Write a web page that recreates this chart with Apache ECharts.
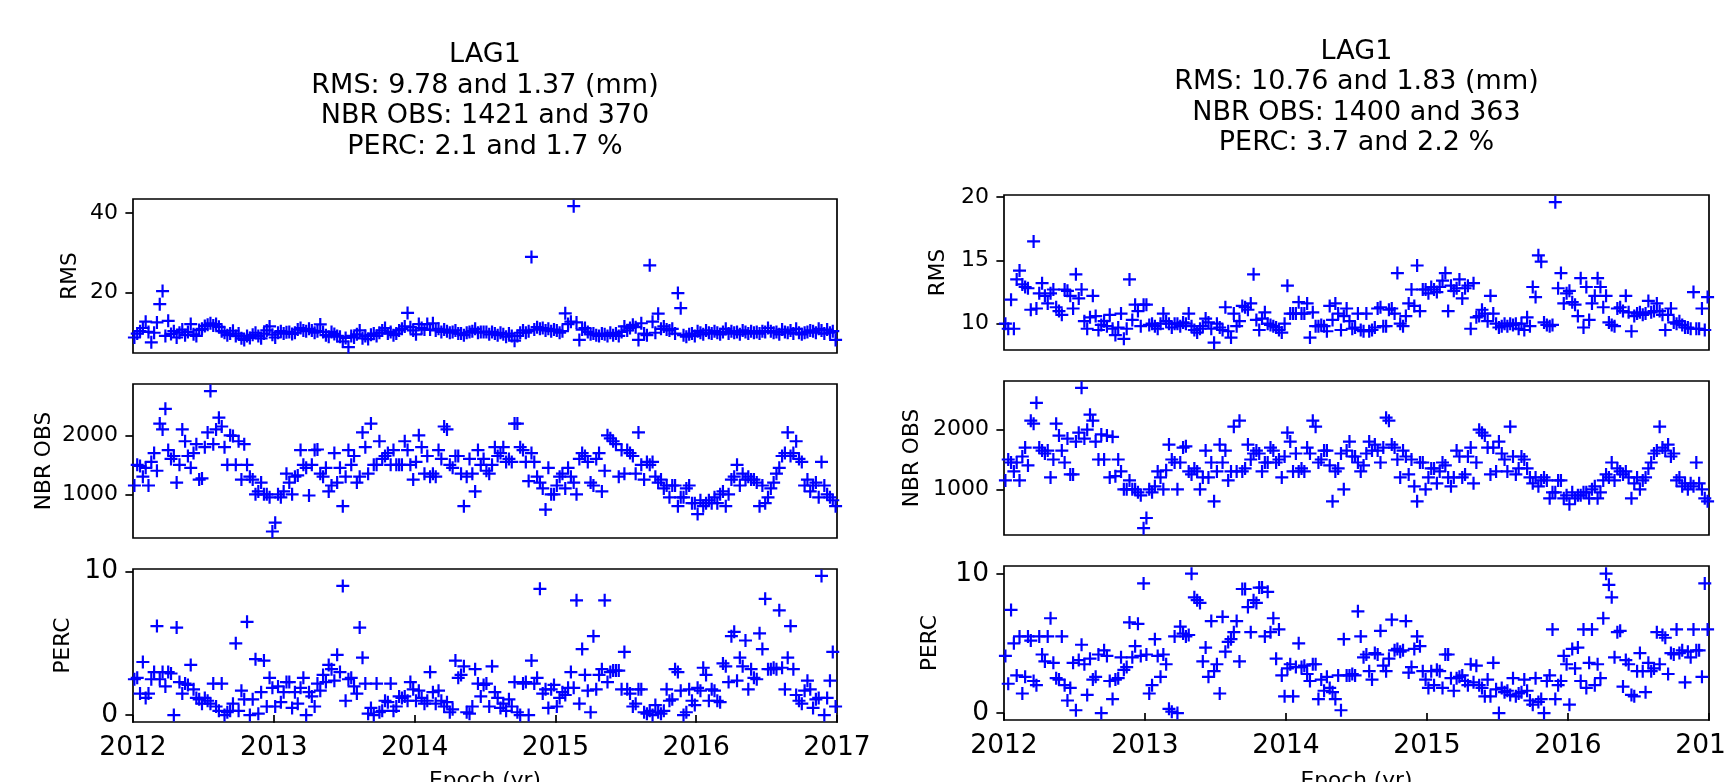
<!DOCTYPE html>
<html><head><meta charset="utf-8">
<script src="https://cdn.jsdelivr.net/npm/echarts@6/dist/echarts.min.js"></script>
<style>html,body{margin:0;padding:0;background:#fff}#c{width:1727px;height:782px}</style>
</head><body><div id="c"></div>
<script>
// ---- data ----
const epochs = [
2012.01,2012.03,2012.05,2012.07,2012.09,2012.11,2012.13,2012.15,2012.17,2012.19,
2012.21,2012.23,2012.25,2012.27,2012.29,2012.31,2012.33,2012.35,2012.37,2012.39,
2012.41,2012.43,2012.45,2012.47,2012.49,2012.51,2012.53,2012.55,2012.57,2012.59,
2012.61,2012.63,2012.65,2012.67,2012.69,2012.71,2012.73,2012.75,2012.77,2012.79,
2012.81,2012.83,2012.85,2012.87,2012.89,2012.91,2012.93,2012.95,2012.97,2012.99,
2013.01,2013.03,2013.05,2013.07,2013.09,2013.11,2013.13,2013.15,2013.17,2013.19,
2013.21,2013.23,2013.25,2013.27,2013.29,2013.31,2013.33,2013.35,2013.37,2013.39,
2013.41,2013.43,2013.45,2013.47,2013.49,2013.51,2013.53,2013.55,2013.57,2013.59,
2013.61,2013.63,2013.65,2013.67,2013.69,2013.71,2013.73,2013.75,2013.77,2013.79,
2013.81,2013.83,2013.85,2013.87,2013.89,2013.91,2013.93,2013.95,2013.97,2013.99,
2014.01,2014.03,2014.05,2014.07,2014.09,2014.11,2014.13,2014.15,2014.17,2014.19,
2014.21,2014.23,2014.25,2014.27,2014.29,2014.31,2014.33,2014.35,2014.37,2014.39,
2014.41,2014.43,2014.45,2014.47,2014.49,2014.51,2014.53,2014.55,2014.57,2014.59,
2014.61,2014.63,2014.65,2014.67,2014.69,2014.71,2014.73,2014.75,2014.77,2014.79,
2014.81,2014.83,2014.85,2014.87,2014.89,2014.91,2014.93,2014.95,2014.97,2014.99,
2015.01,2015.03,2015.05,2015.07,2015.09,2015.11,2015.13,2015.15,2015.17,2015.19,
2015.21,2015.23,2015.25,2015.27,2015.29,2015.31,2015.33,2015.35,2015.37,2015.39,
2015.41,2015.43,2015.45,2015.47,2015.49,2015.51,2015.53,2015.55,2015.57,2015.59,
2015.61,2015.63,2015.65,2015.67,2015.69,2015.71,2015.73,2015.75,2015.77,2015.79,
2015.81,2015.83,2015.85,2015.87,2015.89,2015.91,2015.93,2015.95,2015.97,2015.99,
2016.01,2016.03,2016.05,2016.07,2016.09,2016.11,2016.13,2016.15,2016.17,2016.19,
2016.21,2016.23,2016.25,2016.27,2016.29,2016.31,2016.33,2016.35,2016.37,2016.39,
2016.41,2016.43,2016.45,2016.47,2016.49,2016.51,2016.53,2016.55,2016.57,2016.59,
2016.61,2016.63,2016.65,2016.67,2016.69,2016.71,2016.73,2016.75,2016.77,2016.79,
2016.81,2016.83,2016.85,2016.87,2016.89,2016.91,2016.93,2016.95,2016.97,2016.99
];

const leftRMS = [
8.6,9.6,10.2,11.0,12.6,10.0,7.4,9.8,12.4,17.0,
20.3,9.0,12.8,9.5,10.2,8.6,9.8,10.6,9.2,10.0,
12.0,9.4,9.0,10.5,10.8,11.5,11.8,12.2,11.6,12.0,
11.3,10.2,9.8,9.2,9.6,10.3,9.0,9.6,8.4,8.0,
9.0,8.5,9.3,9.8,9.0,8.4,9.6,10.4,11.4,9.3,
8.6,9.8,10.2,9.6,9.9,10.0,9.5,9.8,10.6,11.0,
10.4,10.2,10.8,10.4,9.8,10.2,11.9,10.0,9.2,8.8,
10.0,9.5,9.0,8.8,7.6,8.5,6.2,9.0,8.6,9.4,
10.4,8.4,9.0,8.2,9.3,9.6,9.0,9.8,10.4,11.0,
9.6,10.0,9.2,9.6,10.4,10.8,11.4,14.8,11.2,10.4,
9.4,12.0,11.0,10.6,12.0,10.6,12.2,10.4,10.8,10.0,
10.6,10.2,9.8,10.0,10.4,9.6,9.6,9.2,9.8,10.0,
10.2,10.8,9.8,10.0,10.0,
10.0,9.4,10.0,9.6,9.2,9.8,9.4,8.8,9.6,9.0,
7.8,9.0,9.8,10.4,9.8,10.2,28.9,10.6,11.2,10.8,
11.0,10.4,10.8,10.2,10.6,10.4,9.8,10.2,14.7,12.0,
12.6,41.7,12.4,8.0,10.6,11.0,10.0,9.4,9.6,9.2,
9.0,9.6,9.4,9.0,9.8,9.2,9.6,9.0,10.0,11.4,
10.4,11.0,11.8,11.2,8.0,12.2,9.6,9.2,26.8,12.6,
9.8,14.6,10.8,11.4,10.6,10.4,10.8,9.6,19.8,16.0,
9.2,8.8,9.4,9.6,9.0,10.2,9.8,9.4,10.4,9.8,
9.6,10.2,9.8,9.4,10.0,10.8,9.6,10.2,9.8,10.0,
9.4,10.4,10.0,9.6,10.2,9.8,10.0,9.6,10.2,10.0,
11.0,10.2,9.8,10.0,9.4,10.6,10.0,9.8,10.4,9.6,
10.8,9.8,9.4,9.8,10.0,10.4,10.2,9.8,10.8,10.4,
9.6,10.6,9.8,10.2,8.0
];

const leftNBR = [
1150,1500,1480,1300,1450,1150,1550,1700,1400,2200,
2100,2450,1750,1600,1650,1200,1500,2100,1900,1650,
1450,1700,1850,1250,1270,1800,2050,2750,1850,2100,
2300,2150,1800,1500,2000,1990,1500,1900,1250,1850,
1500,1300,1250,1000,1050,1200,1000,1000,950,370,
520,1000,950,1050,1350,1200,1000,1300,1320,1750,
1500,1450,980,1500,1750,1760,1350,1300,1450,1050,
1150,1700,1200,1450,800,1300,1750,1500,1650,1200,
1300,2050,1800,1350,2200,1500,1500,1900,1600,1650,
1700,1500,1750,1500,1500,1500,1900,1750,1500,1250,
1550,2000,1800,1350,1650,1300,1350,1300,1750,1600,
2150,2100,1500,1450,1650,1650,1350,800,1300,1600,
1350,1050,1750,1500,1600,
1400,1350,1500,1800,1650,1700,1800,1550,1600,1550,
2200,2200,1800,1750,1550,1224,1700,1550,1300,1200,
1100,741,1450,1000,1000,1150,1300,1350,1100,1450,
1300,1200,1000,1600,1700,1650,1550,1200,1150,1600,
1700,1050,1400,2000,1950,1900,1850,1300,1750,1350,
1750,1700,1650,1350,2050,1500,1250,1550,1500,1550,
1300,1200,1250,1100,1150,950,1150,1150,800,950,
950,1100,1150,850,850,665,900,800,850,900,
850,950,850,1000,1050,800,1000,1250,1300,1500,
1150,1350,1250,1300,1250,1250,1200,800,1150,850,
950,1100,1200,1350,1450,1650,1700,2050,1650,1700,
1900,1600,1550,1150,1250,1050,1150,1200,950,1550,
1150,1000,950,900,800
];

const leftPERC = [
2.5,2.6,1.5,3.7,1.2,1.5,2.5,3.0,6.2,2.5,
3.0,2.0,3.0,2.9,0.0,6.1,2.3,1.5,2.2,2.1,
3.5,1.8,1.2,1.1,0.8,1.2,1.0,0.8,2.2,0.6,
0.3,2.2,0.0,0.2,0.3,0.8,5.0,0.3,1.7,1.1,
6.5,0.0,1.1,3.9,0.1,1.6,3.8,0.6,2.6,1.9,
0.6,2.0,0.9,1.6,2.3,2.3,0.5,1.6,0.8,1.9,
2.6,0.0,1.6,1.3,0.6,2.2,1.7,2.8,2.3,3.5,
3.2,2.4,4.2,3.0,9.0,1.0,2.5,2.6,2.0,1.5,
6.1,4.0,2.2,0.1,0.5,0.0,2.2,0.2,0.3,1.0,
0.9,2.2,0.3,0.6,1.3,1.2,1.3,1.0,2.3,1.8,
1.0,1.7,1.2,0.8,1.0,3.0,1.6,0.8,1.7,1.0,
0.6,0.9,0.2,0.4,3.8,2.6,2.8,3.4,0.2,0.1,
0.6,3.2,2.2,1.3,2.1,
2.2,0.6,3.4,1.6,1.2,0.5,0.8,0.3,1.1,0.6,
2.3,0.2,0.0,2.2,2.3,0.0,3.8,2.2,2.6,8.8,
1.5,1.8,0.5,1.8,2.1,0.6,1.2,1.6,1.4,1.9,
3.0,1.9,8.0,0.8,4.6,2.8,1.7,0.2,5.5,1.8,
2.8,3.2,8.0,2.3,3.0,3.1,3.1,3.1,1.8,4.4,
1.8,1.5,0.6,0.8,1.8,1.8,0.2,0.1,0.3,0.0,
0.7,0.2,0.1,0.3,1.8,1.0,1.1,3.2,3.0,1.7,
0.0,0.2,1.8,1.0,0.7,1.9,1.7,3.3,2.8,1.0,
1.8,1.7,1.0,0.9,3.6,3.4,2.3,5.5,5.8,2.4,
4.0,3.4,5.2,1.8,3.2,2.6,2.5,5.7,4.6,8.1,
3.2,3.2,3.3,3.2,7.3,3.3,1.8,4.0,6.2,3.2,
1.4,1.0,0.8,1.7,2.4,1.8,0.5,1.1,1.2,9.7,
0.0,1.2,2.4,4.4,0.6
];

const rightRMS = [
10.0,9.6,11.9,9.6,13.5,14.2,13.1,12.9,12.8,11.1,
16.5,11.2,12.4,13.2,12.2,11.6,12.4,12.7,11.3,11.0,
10.7,12.7,12.6,12.2,11.2,13.9,12.0,12.7,10.2,9.6,
10.5,12.2,10.6,9.5,9.9,10.2,9.8,10.7,9.6,9.1,
9.7,10.8,8.8,9.6,13.5,10.3,11.5,11.0,9.8,11.5,
11.5,9.9,10.0,9.8,9.6,10.0,10.8,10.2,10.0,9.7,
10.0,10.0,9.8,10.1,10.0,10.8,9.8,9.5,9.3,9.6,
9.8,10.4,10.1,9.6,8.5,10.0,9.7,9.5,11.3,9.4,
8.9,10.8,9.8,10.2,11.4,11.3,11.1,11.6,13.9,10.3,
9.5,10.4,10.9,10.0,9.9,9.8,9.7,9.5,9.3,10.0,
13.0,10.8,10.8,10.8,11.7,10.8,10.8,11.6,8.9,10.9,
9.8,9.8,9.9,9.8,9.4,11.4,10.3,11.6,10.8,9.5,
10.6,11.2,10.2,9.6,9.7,
10.8,9.5,9.4,10.8,9.4,9.5,9.7,11.2,11.3,9.8,
9.8,11.1,11.2,10.8,14.0,10.0,9.8,10.6,11.6,12.7,
11.4,14.6,11.0,12.7,12.7,12.4,12.9,12.7,12.5,12.9,
13.4,14.0,11.0,13.0,12.6,12.8,13.5,12.0,12.8,13.0,
9.6,13.2,10.5,10.6,11.1,10.8,10.2,12.2,10.8,10.0,
9.7,9.8,10.0,9.8,10.0,9.9,10.0,9.6,10.0,9.5,
10.5,9.8,12.9,12.1,15.4,14.9,10.1,9.9,9.8,9.9,
19.6,12.8,14.0,11.6,12.4,12.6,11.7,11.5,10.6,13.6,
9.7,12.9,10.3,11.6,12.2,13.6,12.9,11.3,12.2,10.1,
9.9,9.8,11.2,11.3,11.0,12.2,10.9,9.4,10.6,10.8,
10.9,10.7,10.8,11.8,10.9,11.0,11.6,11.0,10.7,9.5,
10.7,11.2,10.1,10.0,10.2,9.9,9.7,9.7,9.6,12.5,
9.6,9.6,11.2,9.5,12.1
];

const rightNBR = [
1150,1500,1450,1300,1450,1150,1550,1700,1400,2150,
2100,2450,1700,1650,1600,1650,1200,1500,2100,1900,
1650,1450,1850,1250,1250,1800,1950,2700,1850,2000,
2250,2150,1800,1500,1920,1500,1900,1200,1880,1220,
1500,1300,1000,1000,1150,1000,1000,950,900,350,
520,1000,950,1050,1300,1200,1000,1320,1750,1500,
1450,1000,1450,1700,1720,1300,1250,1350,1300,1000,
1200,1650,1200,1450,800,1300,1750,1450,1650,1150,
1300,2050,1300,2150,1300,1350,1750,1500,1600,1650,
1600,1300,1450,1450,1700,1650,1450,1500,1200,1550,
1950,1800,1300,1600,1300,1350,1300,1700,1600,2150,
2050,1450,1500,1650,1650,1400,800,1300,1350,1600,
1000,1650,1800,1550,1550,
1450,1300,1400,1600,1800,1650,1750,1650,1450,1700,
2200,2150,1750,1700,1500,1200,1650,1550,1250,1500,
1050,800,1450,1450,1000,1200,1350,1350,1100,1300,
1450,1400,1200,1050,1200,1650,1550,1200,1250,1550,
1700,1100,1450,2000,1950,1900,1700,1250,1700,1300,
1800,1600,1500,1300,2050,1550,1250,1350,1550,1500,
1350,1200,1100,1200,1050,1150,1200,1150,850,950,
950,1150,1150,850,900,750,950,850,900,900,
950,950,850,1000,1050,850,950,1150,1250,1200,
1450,1150,1350,1300,1250,1300,1200,850,1100,1200,
1000,1150,1200,1350,1450,1600,1650,2050,1700,1650,
1750,1550,1600,1150,1200,1050,1100,1000,1100,1050,
1450,1100,1000,850,800
];

const rightPERC = [
4.1,2.1,7.4,5.0,2.7,5.5,1.4,2.6,5.5,5.2,
2.3,2.0,5.5,4.2,3.7,5.5,6.8,3.6,2.5,2.4,
5.5,2.0,0.9,1.8,3.6,0.2,3.8,4.9,3.5,1.3,
3.9,2.4,2.6,4.2,0.0,4.5,4.1,2.3,1.0,2.4,
2.5,4.0,3.1,3.3,6.5,4.0,4.8,6.4,4.1,9.3,
4.2,1.4,2.0,5.3,4.1,2.6,4.2,3.5,0.3,0.1,
5.5,0.0,6.2,5.7,5.5,5.6,10.0,8.3,8.1,7.9,
3.7,4.7,2.6,6.6,3.0,3.5,1.4,6.9,4.4,5.1,
5.3,5.8,6.6,3.7,8.9,8.9,7.6,5.8,8.1,7.9,
9.0,9.0,5.5,8.7,5.8,6.8,3.9,6.0,2.7,1.2,
3.2,3.5,1.2,3.3,5.0,3.3,3.4,2.8,2.3,3.5,
3.5,1.0,2.4,1.6,2.6,1.8,1.5,1.0,2.7,0.2,
5.3,2.7,2.7,2.8,2.7,
7.3,5.5,4.0,4.2,3.0,2.4,4.3,4.2,5.9,3.4,
3.0,3.9,6.7,4.5,4.6,4.4,4.5,6.6,2.9,3.3,
4.6,5.5,4.8,3.0,2.4,1.8,3.0,2.0,3.1,3.0,
1.8,4.2,4.2,2.5,1.6,2.5,2.6,2.7,2.3,2.0,
3.5,2.2,3.4,2.0,1.8,1.2,2.4,1.2,3.6,1.7,
0.0,1.8,1.5,1.6,1.3,2.5,1.2,1.4,1.5,2.4,
1.6,0.9,0.6,2.5,0.8,1.0,0.0,2.3,2.7,6.0,
1.0,2.0,2.3,4.1,3.5,0.6,4.6,3.2,4.7,2.3,
6.0,1.8,3.6,6.0,2.0,3.5,2.5,6.8,10.0,9.2,
8.3,4.0,5.8,5.9,1.9,3.8,3.5,1.3,1.2,3.0,
4.3,3.0,1.5,3.6,3.0,3.2,5.8,3.5,5.6,5.4,
2.8,4.3,4.2,6.0,4.3,4.5,2.2,4.4,4.0,6.0,
4.5,4.5,2.6,9.3,6.0
];

const yearTicks = [2012, 2013, 2014, 2015, 2016, 2017];
const leftRmsTicks = [20, 40];
const rightRmsTicks = [10, 15, 20];
const nbrTicks = [1000, 2000];
const percTicks = [0, 10];
const panelNames = ['RMS', 'NBR OBS', 'PERC'];
const xName = 'Epoch (yr)';
const titleLeft = ['LAG1', 'RMS: 9.78 and 1.37 (mm)', 'NBR OBS: 1421 and 370', 'PERC: 2.1 and 1.7 %'];
const titleRight = ['LAG1', 'RMS: 10.76 and 1.83 (mm)', 'NBR OBS: 1400 and 363', 'PERC: 3.7 and 2.2 %'];

// ---- layout / style ----
const FONT = 'DejaVu Sans';
const PLUS = 'path://M0,5.4H13V7.6H0Z M5.4,0H7.6V13H5.4Z';
const columns = [
  { left: 133, width: 704, tops: [199, 384, 569], heights: [154, 154, 153],
    ranges: [[4.7, 43.5], [260, 2870], [-0.48, 10.18]], gaps: [52, 78, 59], xGap: 48,
    values: [leftRMS, leftNBR, leftPERC], ticks: [leftRmsTicks, nbrTicks, percTicks],
    title: titleLeft, titleX: 485, titleTop: 40 },
  { left: 1004, width: 705, tops: [195, 381, 566], heights: [155, 154, 154],
    ranges: [[7.92, 20.17], [235, 2815], [-0.5, 10.55]], gaps: [55, 81, 63], xGap: 50,
    values: [rightRMS, rightNBR, rightPERC], ticks: [rightRmsTicks, nbrTicks, percTicks],
    title: titleRight, titleX: 1356.5, titleTop: 36.5 }
];

const grids = [], xAxes = [], yAxes = [], series = [], titles = [];
let idx = 0;
columns.forEach(col => {
  titles.push({
    text: col.title.join('\n'), left: col.titleX, top: col.titleTop, textAlign: 'center', padding: 0,
    textStyle: { fontFamily: FONT, fontSize: 27, fontWeight: 'normal', color: '#000', lineHeight: 30.5 }
  });
  for (let r = 0; r < 3; r++) {
    const bottom = r === 2;
    const tickFont = bottom ? 26.5 : 22;
    grids.push({ left: col.left, top: col.tops[r], width: col.width, height: col.heights[r],
      show: true, borderColor: '#000', borderWidth: 1.7, containLabel: false, outerBoundsMode: 'none' });
    xAxes.push({
      type: 'value', gridIndex: idx, min: 2012, max: 2017, interval: 1,
      axisLine: { show: false },
      axisTick: { show: bottom, length: 7.6, lineStyle: { color: '#000', width: 1.7 }, customValues: yearTicks },
      axisLabel: { show: bottom, customValues: yearTicks, margin: 13, fontFamily: FONT, fontSize: tickFont, color: '#000', formatter: v => String(v) },
      splitLine: { show: false },
      name: bottom ? xName : '', nameLocation: 'middle', nameGap: col.xGap, nameMoveOverlap: false,
      nameTextStyle: { fontFamily: FONT, fontSize: 21.7, color: '#000' }
    });
    yAxes.push({
      type: 'value', gridIndex: idx, min: col.ranges[r][0], max: col.ranges[r][1],
      axisLine: { show: false },
      axisTick: { show: true, length: 7.6, lineStyle: { color: '#000', width: 1.7 }, customValues: col.ticks[r] },
      axisLabel: { customValues: col.ticks[r], margin: 15, fontFamily: FONT, fontSize: tickFont, color: '#000', formatter: v => String(v) },
      splitLine: { show: false },
      name: panelNames[r], nameLocation: 'middle', nameRotate: 90, nameGap: col.gaps[r], nameMoveOverlap: false,
      nameTextStyle: { fontFamily: FONT, fontSize: 21.7, color: '#000' }
    });
    const vals = col.values[r];
    series.push({
      type: 'scatter', xAxisIndex: idx, yAxisIndex: idx,
      data: epochs.map((t, i) => [t, vals[i]]),
      symbol: PLUS, symbolSize: 13,
      itemStyle: { color: '#0000ff', opacity: 1 },
      silent: true, emphasis: { disabled: true }, animation: false
    });
    idx++;
  }
});

const chart = echarts.init(document.getElementById('c'), null, { renderer: 'canvas', width: 1727, height: 782 });
chart.setOption({
  backgroundColor: '#fff',
  animation: false,
  title: titles,
  grid: grids,
  xAxis: xAxes,
  yAxis: yAxes,
  series: series
});
</script>
</body></html>
